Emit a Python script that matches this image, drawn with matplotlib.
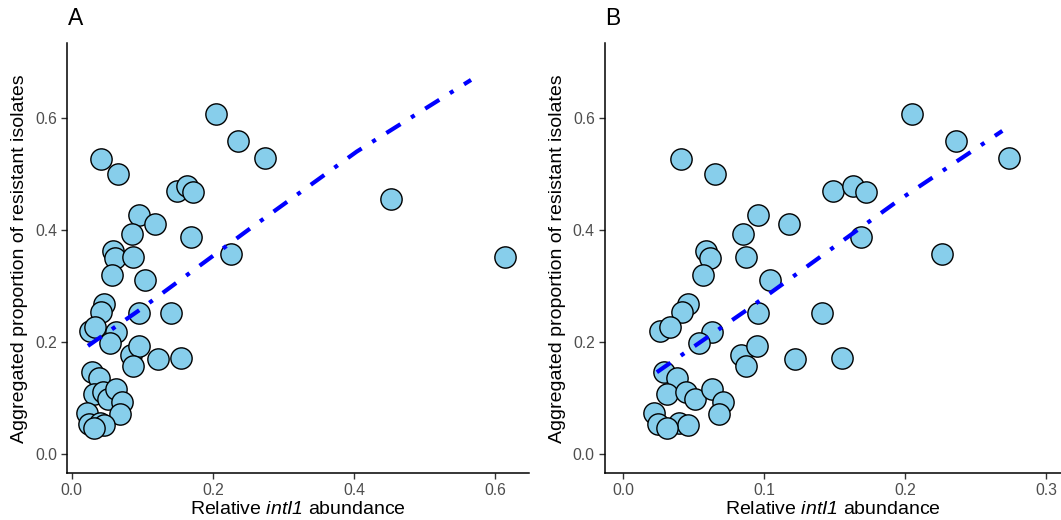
import matplotlib
matplotlib.use("Agg")
import matplotlib.pyplot as plt

plt.rcParams['font.family'] = ['Liberation Sans', 'DejaVu Sans']
plt.rcParams['mathtext.fontset'] = 'custom'
plt.rcParams['mathtext.rm'] = 'Liberation Sans'
plt.rcParams['mathtext.it'] = 'Liberation Sans:italic'
plt.rcParams['mathtext.sf'] = 'Liberation Sans:italic'

# Shared points (panel B shows these; panel A adds two outliers)
intI1 = [0.205, 0.236, 0.274, 0.041, 0.065, 0.149, 0.163, 0.172, 0.096, 0.118,
         0.085, 0.169, 0.059, 0.062, 0.087, 0.226, 0.057, 0.104, 0.046, 0.042,
         0.096, 0.141, 0.026, 0.033, 0.063, 0.054, 0.084, 0.095, 0.087, 0.122,
         0.155, 0.029, 0.038, 0.031, 0.045, 0.051, 0.063, 0.071, 0.068, 0.022,
         0.025, 0.040, 0.046, 0.031]
resist = [0.607, 0.559, 0.528, 0.526, 0.500, 0.470, 0.479, 0.467, 0.427, 0.411,
          0.393, 0.388, 0.362, 0.350, 0.351, 0.357, 0.320, 0.310, 0.268, 0.254,
          0.251, 0.251, 0.220, 0.227, 0.217, 0.199, 0.176, 0.193, 0.157, 0.170,
          0.171, 0.146, 0.136, 0.107, 0.111, 0.099, 0.116, 0.093, 0.071, 0.074,
          0.053, 0.055, 0.051, 0.046]
outlier_x = [0.452, 0.614]
outlier_y = [0.455, 0.352]

# Fitted curves
fitA_x = [0.023, 0.096, 0.25, 0.404, 0.566]
fitA_y = [0.193, 0.257, 0.400, 0.540, 0.668]
fitB_x = [0.024, 0.0877, 0.196, 0.269]
fitB_y = [0.146, 0.257, 0.454, 0.577]

W, H = 1061, 520
fig = plt.figure(figsize=(W / 100, H / 100), dpi=100)

def px_axes(l, r, t, b):
    return fig.add_axes([l / W, 1 - b / H, (r - l) / W, (b - t) / H])

axA = px_axes(66.7, 529.3, 43.3, 473.3)
axB = px_axes(604.5, 1061, 43.3, 473.3)

panels = [
    (axA, intI1 + outlier_x, resist + outlier_y, fitA_x, fitA_y,
     (-0.0071, 0.6486), [0.0, 0.2, 0.4, 0.6], "A"),
    (axB, intI1, resist, fitB_x, fitB_y,
     (-0.0131, 0.3106), [0.0, 0.1, 0.2, 0.3], "B"),
]

for ax, xs, ys, fx, fy, xlim, xt, tag in panels:
    ax.scatter(xs, ys, s=235, facecolor="#87CEEB", edgecolor="black",
               linewidth=1.0, zorder=2, clip_on=False)
    ax.plot(fx, fy, color="#0000FF", linewidth=3.0,
            linestyle=(0, (4, 3, 1, 3)), zorder=3, solid_capstyle="butt")
    ax.set_xlim(*xlim)
    ax.set_ylim(-0.0345, 0.7334)
    ax.set_xticks(xt)
    ax.set_xticklabels([f"{v:.1f}" for v in xt])
    ax.set_yticks([0.0, 0.2, 0.4, 0.6])
    ax.set_yticklabels(["0.0", "0.2", "0.4", "0.6"])
    for side in ["top", "right"]:
        ax.spines[side].set_visible(False)
    for side in ["left", "bottom"]:
        ax.spines[side].set_linewidth(1.1)
        ax.spines[side].set_color("black")
    ax.tick_params(axis="both", length=4, width=1.0, color="#333333",
                   labelsize=11.3, labelcolor="#4D4D4D", pad=3)
    ax.set_xlabel("Relative $\\mathsf{intI1}$ abundance", fontsize=14,
                  color="black", labelpad=2)
    ax.set_ylabel("Aggregated proportion of resistant isolates", fontsize=14,
                  color="black", labelpad=5)
    ax.text(0.002, 1.032, tag, transform=ax.transAxes, fontsize=16.5,
            ha="left", va="bottom")

fig.savefig("out.png", dpi=100)
